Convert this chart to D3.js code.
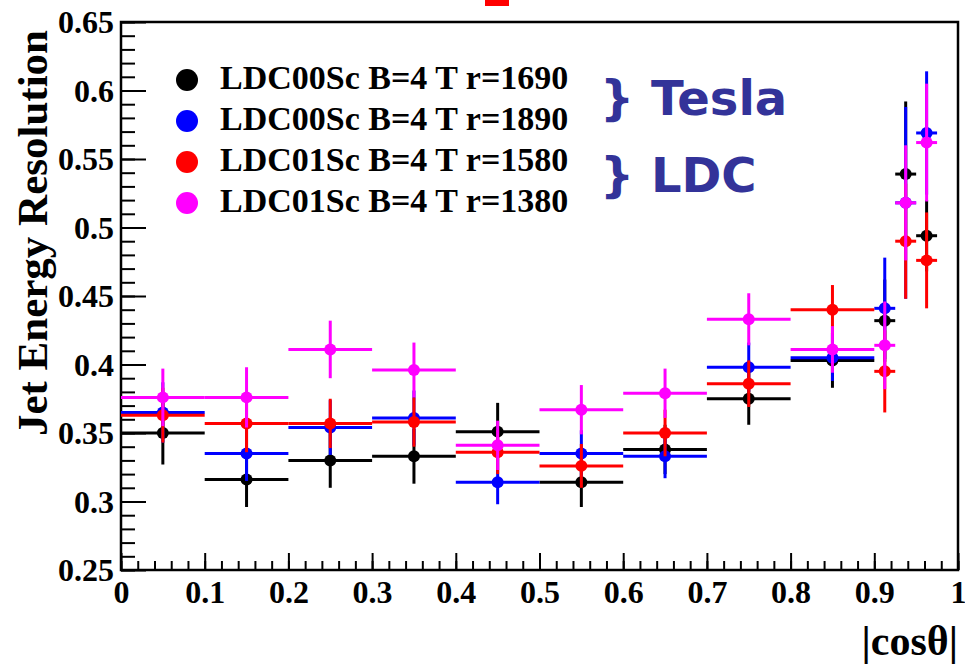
<!DOCTYPE html>
<html>
<head>
<meta charset="utf-8">
<script src="https://cdn.jsdelivr.net/npm/d3@7"></script>
<style>
  html, body { margin: 0; padding: 0; background: #ffffff; }
  svg { display: block; }
</style>
</head>
<body>
<svg id="chart" width="965" height="664"></svg>
<script>
// ---------------- data ----------------
const binCenters = [0.05, 0.15, 0.25, 0.35, 0.45, 0.55, 0.65, 0.75, 0.85, 0.9125, 0.9375, 0.9625];
const binHalfWidths = [0.05, 0.05, 0.05, 0.05, 0.05, 0.05, 0.05, 0.05, 0.05, 0.0125, 0.0125, 0.0125];

const seriesNames = ["LDC00Sc B=4 T r=1690", "LDC00Sc B=4 T r=1890", "LDC01Sc B=4 T r=1580", "LDC01Sc B=4 T r=1380"];
const seriesColors = ["#000000", "#0000ff", "#ff0000", "#ff00ff"];

const blackValues  = [0.350, 0.316, 0.330, 0.333, 0.351, 0.314, 0.338, 0.375, 0.403, 0.432, 0.539, 0.494];
const blackErrors  = [0.023, 0.020, 0.020, 0.020, 0.021, 0.018, 0.018, 0.019, 0.020, 0.030, 0.053, 0.026];
const blueValues   = [0.365, 0.335, 0.354, 0.361, 0.314, 0.335, 0.333, 0.398, 0.405, 0.441, 0.518, 0.569];
const blueErrors   = [0.022, 0.020, 0.020, 0.020, 0.016, 0.017, 0.016, 0.018, 0.017, 0.037, 0.070, 0.045];
const redValues    = [0.363, 0.357, 0.357, 0.358, 0.336, 0.326, 0.350, 0.386, 0.440, 0.395, 0.490, 0.476];
const redErrors    = [0.020, 0.021, 0.018, 0.018, 0.016, 0.016, 0.017, 0.017, 0.018, 0.030, 0.042, 0.035];
const magentaValues = [0.376, 0.376, 0.411, 0.396, 0.341, 0.367, 0.379, 0.433, 0.411, 0.414, 0.518, 0.562];
const magentaErrors = [0.021, 0.022, 0.021, 0.020, 0.018, 0.018, 0.018, 0.019, 0.017, 0.032, 0.042, 0.043];

const yTickValues = [0.25, 0.3, 0.35, 0.4, 0.45, 0.5, 0.55, 0.6, 0.65];
const yTickLabels = ["0.25", "0.3", "0.35", "0.4", "0.45", "0.5", "0.55", "0.6", "0.65"];
const xTickValues = [0, 0.1, 0.2, 0.3, 0.4, 0.5, 0.6, 0.7, 0.8, 0.9, 1];
const xTickLabels = ["0", "0.1", "0.2", "0.3", "0.4", "0.5", "0.6", "0.7", "0.8", "0.9", "1"];

const yTitle = "Jet Energy Resolution";
const xTitle = "|cosθ|";
const annotations = ["} Tesla", "} LDC"];

// ---------------- layout ----------------
const serif = "'Liberation Serif', 'Times New Roman', serif";
const svg = d3.select("#chart");
const x = d3.scaleLinear().domain([0, 1]).range([121, 958]);
const y = d3.scaleLinear().domain([0.25, 0.65]).range([570, 22]);

// small red fragment at the top (cut-off slide element)
svg.append("rect").attr("x", 485).attr("y", 0).attr("width", 24).attr("height", 6).attr("fill", "#ff0000");

// Y axis: major + minor ticks (pointing inward)
const yMinor = d3.range(0.25, 0.6501, 0.01).map(v => +v.toFixed(2));
svg.append("g").attr("transform", `translate(${x(0)},0)`)
  .call(d3.axisLeft(y).tickValues(yMinor).tickSize(-14).tickFormat(""))
  .call(g => g.select(".domain").remove())
  .call(g => g.selectAll("line").attr("stroke", "#000").attr("stroke-width", 2));
svg.append("g").attr("transform", `translate(${x(0)},0)`)
  .call(d3.axisLeft(y).tickValues(yTickValues).tickSize(-25).tickPadding(7)
        .tickFormat((d, i) => yTickLabels[i]))
  .call(g => g.select(".domain").remove())
  .call(g => g.selectAll("line").attr("stroke", "#000").attr("stroke-width", 2))
  .call(g => g.selectAll("text").attr("font-family", serif).attr("font-weight", "bold")
        .attr("font-size", 32).attr("fill", "#000").attr("dy", "0.33em"));

// X axis: major + minor ticks (pointing upward)
const xMinor = d3.range(0, 1.0001, 0.02).map(v => +v.toFixed(2));
svg.append("g").attr("transform", `translate(0,${y(0.25)})`)
  .call(d3.axisBottom(x).tickValues(xMinor).tickSize(-9).tickFormat(""))
  .call(g => g.select(".domain").remove())
  .call(g => g.selectAll("line").attr("stroke", "#000").attr("stroke-width", 2));
svg.append("g").attr("transform", `translate(0,${y(0.25)})`)
  .call(d3.axisBottom(x).tickValues(xTickValues).tickSize(-17).tickPadding(10)
        .tickFormat((d, i) => xTickLabels[i]))
  .call(g => g.select(".domain").remove())
  .call(g => g.selectAll("line").attr("stroke", "#000").attr("stroke-width", 2))
  .call(g => g.selectAll("text").attr("font-family", serif).attr("font-weight", "bold")
        .attr("font-size", 32).attr("fill", "#000"));

// Frame
svg.append("rect")
  .attr("x", x(0)).attr("y", y(0.65))
  .attr("width", x(1) - x(0)).attr("height", y(0.25) - y(0.65))
  .attr("fill", "none").attr("stroke", "#000").attr("stroke-width", 2.5);

// Axis titles
svg.append("text")
  .attr("transform", `translate(47,233) rotate(-90)`)
  .attr("text-anchor", "middle")
  .attr("font-family", serif).attr("font-weight", "bold").attr("font-size", 43)
  .text(yTitle);
svg.append("text")
  .attr("x", 958).attr("y", 655).attr("text-anchor", "end")
  .attr("font-family", serif).attr("font-weight", "bold").attr("font-size", 42)
  .text(xTitle);

// Data series
const allValues = [blackValues, blueValues, redValues, magentaValues];
const allErrors = [blackErrors, blueErrors, redErrors, magentaErrors];
allValues.forEach((vals, s) => {
  const g = svg.append("g").attr("stroke", seriesColors[s]).attr("fill", seriesColors[s]);
  const pts = binCenters.map((c, i) => ({ c, hw: binHalfWidths[i], v: vals[i], e: allErrors[s][i] }));
  g.selectAll("line.h").data(pts).join("line").attr("class", "h")
    .attr("x1", d => x(d.c - d.hw)).attr("x2", d => x(d.c + d.hw))
    .attr("y1", d => y(d.v)).attr("y2", d => y(d.v)).attr("stroke-width", 3);
  g.selectAll("line.v").data(pts).join("line").attr("class", "v")
    .attr("x1", d => x(d.c)).attr("x2", d => x(d.c))
    .attr("y1", d => y(d.v - d.e)).attr("y2", d => y(d.v + d.e)).attr("stroke-width", 3);
  g.selectAll("circle").data(pts).join("circle")
    .attr("cx", d => x(d.c)).attr("cy", d => y(d.v)).attr("r", 6).attr("stroke", "none");
});

// Legend
const legend = svg.append("g");
seriesNames.forEach((name, i) => {
  const cy = 80 + i * 41;
  legend.append("circle").attr("cx", 187).attr("cy", cy).attr("r", 11).attr("fill", seriesColors[i]);
  legend.append("text").attr("x", 220).attr("y", cy + 9)
    .attr("font-family", serif).attr("font-weight", "bold").attr("font-size", 34)
    .attr("fill", "#000").text(name);
});

// Blue annotations
annotations.forEach((t, i) => {
  svg.append("text").attr("x", 600).attr("y", 115 + i * 77)
    .attr("font-family", "'DejaVu Sans', Verdana, sans-serif").attr("font-weight", "bold")
    .attr("font-size", 48).attr("fill", "#333399").text(t);
});
</script>
</body>
</html>
